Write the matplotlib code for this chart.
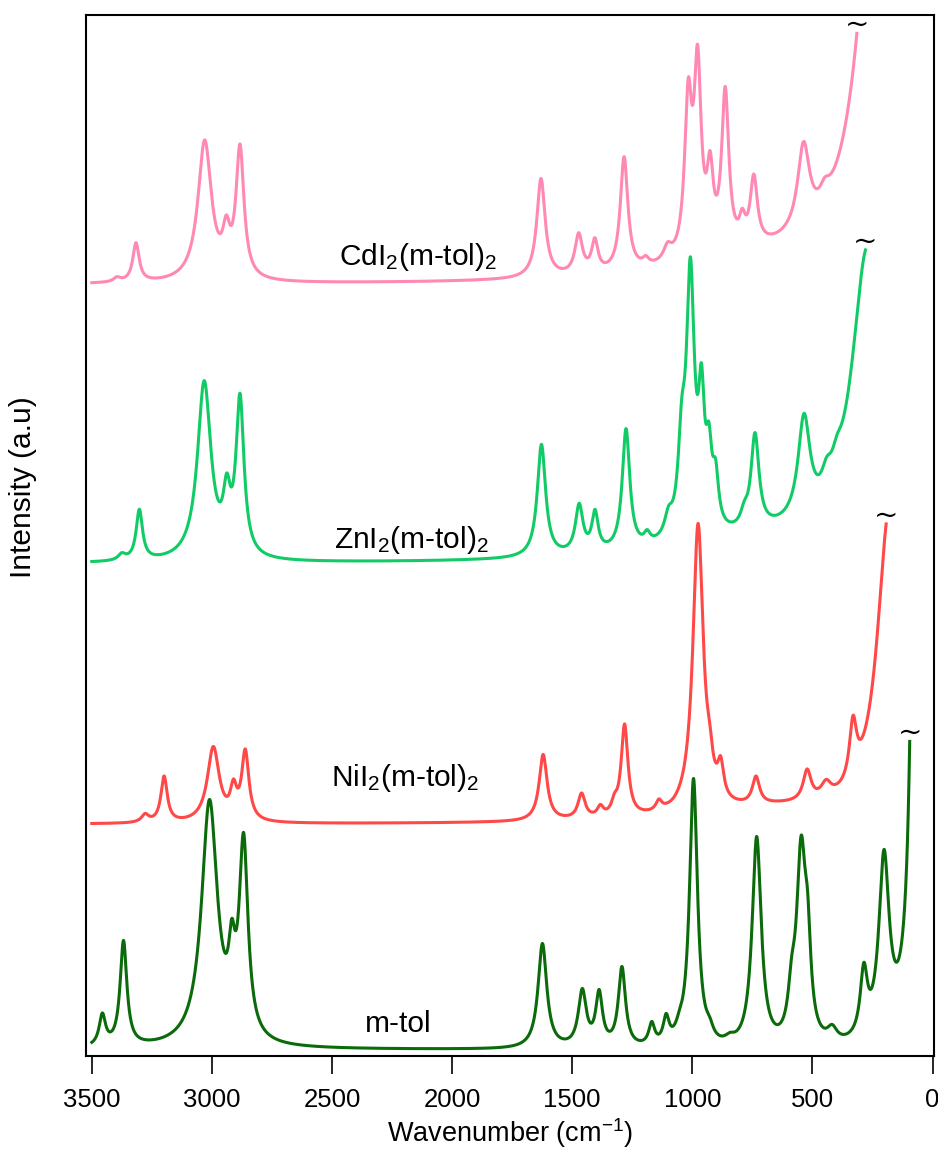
import numpy as np
import matplotlib.pyplot as plt

plt.rcParams['font.family'] = ['Liberation Sans', 'DejaVu Sans']
plt.rcParams['mathtext.fontset'] = 'custom'
plt.rcParams['mathtext.rm'] = 'Liberation Sans'
plt.rcParams['mathtext.it'] = 'Liberation Sans:italic'

# Raman bands for each sample: centre (cm-1), half width (cm-1),
# intensity above the baseline at the centre (a.u.).
# The last entry is the low-wavenumber cut-off; its intensity is the value there.
mtol_pos = [3456, 3368, 3010, 2917, 2868, 1624, 1458, 1388, 1293, 1169, 1109, 1053,
            995, 928, 844, 732, 650, 586, 547, 520, 418, 286, 202, 95]
mtol_hw = [16, 17, 40, 16, 22, 22, 20, 17, 18, 15, 15, 20,
           20, 18, 25, 23, 450, 18, 23, 16, 25, 18, 26, 15]
mtol_int = [36.5, 109, 250, 131, 217, 106, 61, 60, 83, 28, 36, 40,
            271, 33, 17, 213, 25, 94, 214, 158, 25, 87, 200, 308]

ni_pos = [3278, 3199, 2994, 2910, 2861, 1621, 1461, 1383, 1324, 1282, 1139, 1079,
          976, 928, 882, 735, 640, 522, 443, 331, 193]
ni_hw = [18, 16, 30, 16, 18, 20, 18, 15, 15, 17, 15, 18,
         26, 15, 15, 18, 400, 20, 25, 18, 60]
ni_int = [11, 48.5, 78, 45.5, 75.5, 70, 31.5, 20, 31.5, 100.5, 25.5, 26.5,
          301, 102.5, 68.5, 48.5, 23.5, 55.5, 45, 109, 300.5]

zn_pos = [3375, 3302, 3032, 2938, 2883, 1628, 1471, 1405, 1276, 1188, 1099, 1044,
          1008, 962, 931, 903, 784, 739, 662, 535, 441, 398, 279]
zn_hw = [18, 16, 34, 18, 20, 21, 19, 16, 19, 15, 20, 18,
         20, 15, 15, 15, 18, 20, 450, 30, 25, 25, 80]
zn_int = [11.3, 54.7, 183.3, 91, 170.7, 119.6, 60.7, 54.6, 135.4, 34.4, 58, 166,
          307.2, 201, 142, 105, 63, 131.4, 48.6, 150.6, 107, 129, 314]

cd_pos = [3395, 3316, 3030, 2940, 2883, 1630, 1473, 1406, 1284, 1194, 1103,
          1017, 978, 926, 863, 792, 744, 663, 537, 449, 315]
cd_hw = [18, 16, 34, 18, 20, 21, 19, 16, 19, 15, 20,
         18, 18, 16, 18, 15, 18, 450, 30, 25, 90]
cd_int = [8.3, 42.3, 145, 70, 141, 106.5, 52.3, 47.3, 128.3, 29.5, 43,
          207, 240.5, 134.3, 198.6, 76.7, 111, 51.3, 143.4, 107.6, 251.6]

# centre of the rising Rayleigh wing below each cut-off (cm-1)
wing_centre = [60, 180, 270, 220]

labels = ['m-tol', 'NiI$_2$(m-tol)$_2$', 'ZnI$_2$(m-tol)$_2$', 'CdI$_2$(m-tol)$_2$']
colors = ['#0b6b0b', '#ff4848', '#11cc66', '#ff88b4']


def lorentz(x, pos, hw):
    return 1.0 / (1.0 + ((x[:, None] - pos[None, :]) / hw[None, :]) ** 2)


def spectrum(wn, pos, hw, height, wing):
    at = np.asarray(pos, float)
    hw = np.asarray(hw, float)
    centres = at.copy()
    centres[-1] = wing
    # band amplitudes so the summed curve reaches each listed intensity
    amp = np.linalg.solve(lorentz(at, centres, hw), np.asarray(height, float))
    return lorentz(wn, centres, hw) @ amp


bands = [(mtol_pos, mtol_hw, mtol_int), (ni_pos, ni_hw, ni_int),
         (zn_pos, zn_hw, zn_int), (cd_pos, cd_hw, cd_int)]
offsets = [6.5, 231.5, 492, 771]
label_xy = [(2225, 32), (2195, 278), (2170, 516), (2142, 799)]

fig = plt.figure(figsize=(9.38, 11.49), dpi=100)
ax = fig.add_axes([0.0917, 0.081, 0.904, 0.906])

for (pos, hw, h), wing, off, col, lab, lxy in zip(bands, wing_centre, offsets, colors, labels, label_xy):
    wn = np.linspace(3500, pos[-1], 4000)
    y = off + spectrum(wn, pos, hw, h, wing)
    ax.plot(wn, y, color=col, lw=2.2)
    ax.annotate('~', (wn[-1], y[-1]), xytext=(0, 6), textcoords='offset points',
                ha='center', va='center', fontsize=21, family='DejaVu Serif')
    ax.text(lxy[0], lxy[1], lab, ha='center', va='center', fontsize=21.5)

ax.set_xlim(3524, -6)
ax.set_ylim(0, 1041)
ax.set_xticks([3500, 3000, 2500, 2000, 1500, 1000, 500, 0])
ax.set_yticks([])
ax.tick_params(axis='x', direction='out', length=13, width=1.2, labelsize=18.5, pad=10)
for s in ax.spines.values():
    s.set_linewidth(1.5)
ax.set_xlabel('Wavenumber (cm$^{-1}$)', fontsize=19.5, labelpad=3)
ax.set_ylabel('Intensity (a.u)', fontsize=21.5)
ax.yaxis.set_label_coords(-0.058, 0.546)

fig.savefig('out.png', dpi=100)
